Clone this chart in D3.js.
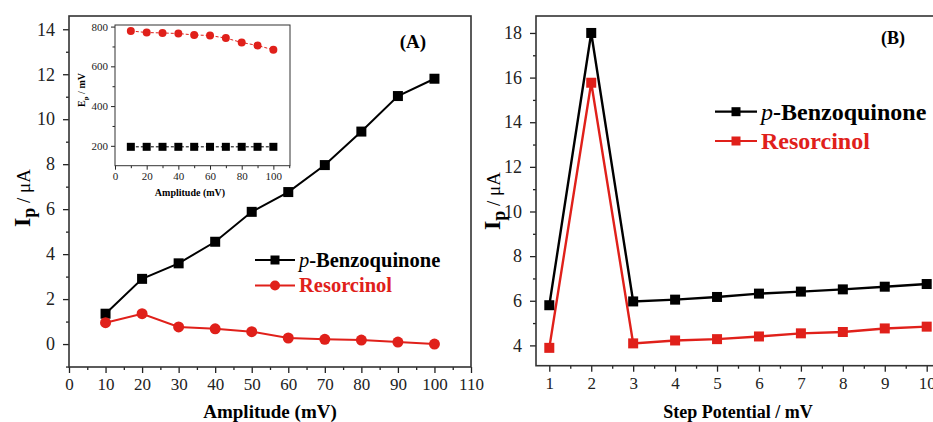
<!DOCTYPE html>
<html>
<head>
<meta charset="utf-8">
<script src="https://cdn.jsdelivr.net/npm/d3@7"></script>
<style>
  body { margin: 0; background: #fff; }
  svg, svg text { font-family: "Liberation Serif", "DejaVu Serif", serif; }
  .axis path, .axis line { stroke: #222; }
  .axis text { fill: #222; }
</style>
</head>
<body>
<div id="chart-area"></div>
<script>
// Panel A data: amplitude (mV) vs Ip (uA)
var amplitude = [10, 20, 30, 40, 50, 60, 70, 80, 90, 100];
var benzoAmp = [1.35, 2.9, 3.59, 4.55, 5.88, 6.76, 7.96, 9.45, 11.03, 11.8];
var resorAmp = [0.95, 1.35, 0.76, 0.68, 0.55, 0.27, 0.21, 0.18, 0.09, 0.0];

// inset: Ep (mV) vs amplitude
var benzoEp = [195, 195, 195, 195, 195, 195, 195, 195, 195, 195];
var resorEp = [778, 770, 768, 765, 758, 755, 742, 720, 705, 683];

// Panel B data: step potential (mV) vs Ip (uA)
var stepPot = [1, 2, 3, 4, 5, 6, 7, 8, 9, 10];
var benzoStep = [5.8, 18.0, 5.97, 6.05, 6.17, 6.32, 6.41, 6.51, 6.63, 6.75];
var resorStep = [3.89, 15.77, 4.09, 4.22, 4.28, 4.40, 4.54, 4.6, 4.76, 4.84];

var ampTicks = [0, 10, 20, 30, 40, 50, 60, 70, 80, 90, 100, 110];
var ipTicksA = [0, 2, 4, 6, 8, 10, 12, 14];
var epTicks = [200, 400, 600, 800];
var insetXTicks = [0, 20, 40, 60, 80, 100];
var stepTicks = [1, 2, 3, 4, 5, 6, 7, 8, 9, 10];
var ipTicksB = [4, 6, 8, 10, 12, 14, 16, 18];

var W = 933, H = 422;
var svg = d3.select("#chart-area").append("svg")
    .attr("width", W).attr("height", H);

function frame(g, w, h, sw) {
    g.append("rect")
        .attr("x", 0).attr("y", 0)
        .attr("width", w).attr("height", h)
        .attr("fill", "none")
        .attr("stroke", "#333")
        .attr("stroke-width", sw);
}

function styleAxis(sel, fs, sw) {
    sel.attr("class", "axis").attr("font-family", null);
    sel.select(".domain").remove();
    sel.selectAll("line").attr("stroke-width", sw);
    sel.selectAll("text").attr("font-size", fs);
}

// ---------------- Panel A ----------------
var aL = 69, aT = 16, aW = 471 - 69, aH = 367 - 16;
var gA = svg.append("g").attr("transform", "translate(" + aL + "," + aT + ")");

var xA = d3.scaleLinear().domain([0, 110]).range([0, aW]);
var yA = d3.scaleLinear().domain([-1.02, 14.59]).range([aH, 0]);

var xAxA = gA.append("g").attr("transform", "translate(0," + aH + ")")
    .call(d3.axisBottom(xA).tickValues(ampTicks).tickSize(6).tickPadding(5));
styleAxis(xAxA, 17, 1.3);
var xAxAm = gA.append("g").attr("transform", "translate(0," + aH + ")")
    .call(d3.axisBottom(xA).tickValues(d3.range(5, 110, 10)).tickSize(3).tickFormat(""));
styleAxis(xAxAm, 17, 1.3);

var yAxA = gA.append("g")
    .call(d3.axisLeft(yA).tickValues(ipTicksA).tickSize(6).tickPadding(8));
styleAxis(yAxA, 18, 1.3);
var yAxAm = gA.append("g")
    .call(d3.axisLeft(yA).tickValues(d3.range(-1, 14, 2)).tickSize(3).tickFormat(""));
styleAxis(yAxAm, 18, 1.3);

frame(gA, aW, aH, 1.6);

var lineA = d3.line().x(function(d, i) { return xA(amplitude[i]); }).y(function(d) { return yA(d); });

gA.append("path").datum(benzoAmp).attr("d", lineA)
    .attr("fill", "none").attr("stroke", "#000").attr("stroke-width", 2);
gA.append("path").datum(resorAmp).attr("d", lineA)
    .attr("fill", "none").attr("stroke", "#e0201a").attr("stroke-width", 2);

gA.selectAll(".sqA").data(benzoAmp).enter().append("rect")
    .attr("x", function(d, i) { return xA(amplitude[i]) - 5; })
    .attr("y", function(d) { return yA(d) - 5; })
    .attr("width", 10).attr("height", 10).attr("fill", "#000");
gA.selectAll(".ciA").data(resorAmp).enter().append("circle")
    .attr("cx", function(d, i) { return xA(amplitude[i]); })
    .attr("cy", function(d) { return yA(d); })
    .attr("r", 5.5).attr("fill", "#e0201a");

// (A) tag
svg.append("text").attr("x", 413).attr("y", 48)
    .attr("text-anchor", "middle").attr("font-size", 19).attr("font-weight", "bold")
    .text("(A)");

// legend
function legend(x0, y0, color, marker, label, italicP, fs, len) {
    svg.append("line").attr("x1", x0).attr("x2", x0 + len)
        .attr("y1", y0).attr("y2", y0)
        .attr("stroke", color).attr("stroke-width", 2.2);
    if (marker === "circle") {
        svg.append("circle").attr("cx", x0 + len / 2).attr("cy", y0).attr("r", 5).attr("fill", color);
    } else {
        svg.append("rect").attr("x", x0 + len / 2 - 4.5).attr("y", y0 - 4.5)
            .attr("width", 9).attr("height", 9).attr("fill", color);
    }
    var t = svg.append("text").attr("x", x0 + len + 4).attr("y", y0 + fs * 0.33)
        .attr("font-size", fs).attr("font-weight", "bold").attr("fill", color);
    if (italicP) {
        t.append("tspan").attr("font-style", "italic").attr("font-weight", "normal").text("p");
        t.append("tspan").text("-" + label);
    } else {
        t.text(label);
    }
}
legend(255, 260, "#000", "rect", "Benzoquinone", true, 20.5, 40);
legend(255, 285.5, "#e0201a", "circle", "Resorcinol", false, 20.5, 40);

// axis labels A
svg.append("text").attr("x", 270).attr("y", 418)
    .attr("text-anchor", "middle").attr("font-size", 19).attr("font-weight", "bold")
    .text("Amplitude (mV)");

function ipLabel(cx, cy) {
    var t = svg.append("text")
        .attr("transform", "translate(" + cx + "," + cy + ") rotate(-90)")
        .attr("text-anchor", "middle");
    t.append("tspan").attr("font-size", 24).attr("font-weight", "bold").text("I");
    t.append("tspan").attr("font-size", 18).attr("font-weight", "bold").attr("dy", 5).text("p");
    t.append("tspan").attr("font-size", 19).attr("dy", -5).text(" / \u03bcA");
}
ipLabel(30, 198);

// ---------------- Inset ----------------
var iL = 115, iT = 25, iW = 290 - 115, iH = 165.7 - 25;
var gI = svg.append("g").attr("transform", "translate(" + iL + "," + iT + ")");
gI.append("rect").attr("width", iW).attr("height", iH).attr("fill", "#fff");

var xI = d3.scaleLinear().domain([0, 110.5]).range([0, iW]);
var yI = d3.scaleLinear().domain([100, 808]).range([iH, 0]);

var xAxI = gI.append("g").attr("transform", "translate(0," + iH + ")")
    .call(d3.axisBottom(xI).tickValues(insetXTicks).tickSize(4).tickPadding(3));
styleAxis(xAxI, 11, 1);
var xAxIm = gI.append("g").attr("transform", "translate(0," + iH + ")")
    .call(d3.axisBottom(xI).tickValues(d3.range(10, 111, 20)).tickSize(2.5).tickFormat(""));
styleAxis(xAxIm, 11, 1);
var yAxI = gI.append("g")
    .call(d3.axisLeft(yI).tickValues(epTicks).tickSize(4).tickPadding(3));
styleAxis(yAxI, 11, 1);
var yAxIm = gI.append("g")
    .call(d3.axisLeft(yI).tickValues([300, 500, 700]).tickSize(2.5).tickFormat(""));
styleAxis(yAxIm, 11, 1);
frame(gI, iW, iH, 1);

var lineI = d3.line().x(function(d, i) { return xI(amplitude[i]); }).y(function(d) { return yI(d); });
gI.append("path").datum(resorEp).attr("d", lineI)
    .attr("fill", "none").attr("stroke", "#e0201a").attr("stroke-width", 1)
    .attr("stroke-dasharray", "3,2");
gI.append("path").datum(benzoEp).attr("d", lineI)
    .attr("fill", "none").attr("stroke", "#000").attr("stroke-width", 1)
    .attr("stroke-dasharray", "3,2");
gI.selectAll(".ciI").data(resorEp).enter().append("circle")
    .attr("cx", function(d, i) { return xI(amplitude[i]); })
    .attr("cy", function(d) { return yI(d); })
    .attr("r", 4).attr("fill", "#e0201a");
gI.selectAll(".sqI").data(benzoEp).enter().append("rect")
    .attr("x", function(d, i) { return xI(amplitude[i]) - 4; })
    .attr("y", function(d) { return yI(d) - 4; })
    .attr("width", 8).attr("height", 8).attr("fill", "#000");

svg.append("text").attr("x", 190).attr("y", 196)
    .attr("text-anchor", "middle").attr("font-size", 10).attr("font-weight", "bold")
    .text("Amplitude (mV)");
var tE = svg.append("text")
    .attr("transform", "translate(85,90) rotate(-90)")
    .attr("text-anchor", "middle").attr("font-size", 10).attr("font-weight", "bold");
tE.append("tspan").text("E");
tE.append("tspan").attr("font-size", 7).attr("dy", 3).text("p");
tE.append("tspan").attr("dy", -3).text(" / mV");

// ---------------- Panel B ----------------
var bL = 536, bT = 16, bH = 365.7 - 16;
var xB = d3.scaleLinear().domain([1, 10]).range([549.3 - bL, 926.7 - bL]);
var bW = xB(10.32);
var gB = svg.append("g").attr("transform", "translate(" + bL + "," + bT + ")");
var yB = d3.scaleLinear().domain([3.09, 18.76]).range([bH, 0]);

var xAxB = gB.append("g").attr("transform", "translate(0," + bH + ")")
    .call(d3.axisBottom(xB).tickValues(stepTicks).tickSize(6).tickPadding(5));
styleAxis(xAxB, 17, 1.3);
var xAxBm = gB.append("g").attr("transform", "translate(0," + bH + ")")
    .call(d3.axisBottom(xB).tickValues(d3.range(1.5, 10.4, 1)).tickSize(3).tickFormat(""));
styleAxis(xAxBm, 17, 1.3);
var yAxB = gB.append("g")
    .call(d3.axisLeft(yB).tickValues(ipTicksB).tickSize(6).tickPadding(8));
styleAxis(yAxB, 18, 1.3);
var yAxBm = gB.append("g")
    .call(d3.axisLeft(yB).tickValues(d3.range(5, 19, 2)).tickSize(3).tickFormat(""));
styleAxis(yAxBm, 18, 1.3);
frame(gB, bW, bH, 1.6);

var lineB = d3.line().x(function(d, i) { return xB(stepPot[i]); }).y(function(d) { return yB(d); });
gB.append("path").datum(benzoStep).attr("d", lineB)
    .attr("fill", "none").attr("stroke", "#000").attr("stroke-width", 2.4);
gB.append("path").datum(resorStep).attr("d", lineB)
    .attr("fill", "none").attr("stroke", "#e0201a").attr("stroke-width", 2.4);
gB.selectAll(".sqB1").data(benzoStep).enter().append("rect")
    .attr("x", function(d, i) { return xB(stepPot[i]) - 5; })
    .attr("y", function(d) { return yB(d) - 5; })
    .attr("width", 10).attr("height", 10).attr("fill", "#000");
gB.selectAll(".sqB2").data(resorStep).enter().append("rect")
    .attr("x", function(d, i) { return xB(stepPot[i]) - 5; })
    .attr("y", function(d) { return yB(d) - 5; })
    .attr("width", 10).attr("height", 10).attr("fill", "#e0201a");

svg.append("text").attr("x", 893).attr("y", 44)
    .attr("text-anchor", "middle").attr("font-size", 18).attr("font-weight", "bold")
    .text("(B)");

legend(715, 111.7, "#000", "rect", "Benzoquinone", true, 24, 42);
legend(715, 141, "#e0201a", "rect", "Resorcinol", false, 24, 42);

svg.append("text").attr("x", 738).attr("y", 418)
    .attr("text-anchor", "middle").attr("font-size", 18).attr("font-weight", "bold")
    .text("Step Potential / mV");
ipLabel(500, 201);
</script>
</body>
</html>
